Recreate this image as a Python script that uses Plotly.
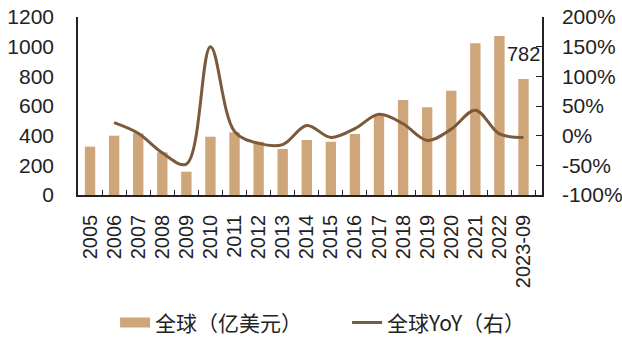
import plotly.graph_objects as go

# Categories and series
years = ["2005", "2006", "2007", "2008", "2009", "2010", "2011", "2012", "2013", "2014",
         "2015", "2016", "2017", "2018", "2019", "2020", "2021", "2022", "2023-09"]
global_value = [326, 400, 416, 288, 157, 393, 422, 359, 310, 371,
                359, 411, 545, 640, 591, 703, 1023, 1072, 782]
global_yoy_years = years[1:]
global_yoy = [22, 4, -29, -48, 150, 7, -13, -15, 17,
              -3, 12, 36, 20, -8, 11, 43, 3, -3]

y_ticks = [0, 200, 400, 600, 800, 1000, 1200]
y2_ticks = [-100, -50, 0, 50, 100, 150, 200]
y2_labels = ["-100%", "-50%", "0%", "50%", "100%", "150%", "200%"]

BAR_COLOR = "#CFA57A"
LINE_COLOR = "#7A5A3A"
FONT = "Liberation Sans, Arial, sans-serif"
CJK = "Noto Sans CJK SC"

fig = go.Figure()
fig.add_trace(go.Bar(
    x=years, y=global_value, name="全球（亿美元）",
    marker=dict(color=BAR_COLOR, line=dict(width=0)),
    yaxis="y", showlegend=False,
))
# legend entry for the bars drawn as a wide flat swatch
fig.add_trace(go.Scatter(
    x=[None], y=[None], name="全球（亿美元）", mode="lines",
    line=dict(color=BAR_COLOR, width=10), yaxis="y", hoverinfo="skip",
))
fig.add_trace(go.Scatter(
    x=global_yoy_years, y=global_yoy, name="全球YoY（右）",
    mode="lines", line=dict(color=LINE_COLOR, width=3, shape="spline", smoothing=1.0),
    yaxis="y2",
))

# value label on the last bar
fig.add_annotation(
    x=years[-1], y=global_value[-1], text=str(global_value[-1]),
    showarrow=False, xref="x", yref="y", yanchor="bottom",
    xshift=0, yshift=12, font=dict(family=FONT, size=20, color="#222"),
)

fig.update_layout(
    width=622, height=338,
    margin=dict(l=78, r=80, t=17, b=143),
    paper_bgcolor="white", plot_bgcolor="white",
    bargap=0.57,
    showlegend=True,
    legend=dict(
        orientation="h", xref="container", yref="container",
        x=0.185, y=0.045, xanchor="left", yanchor="middle",
        font=dict(family=CJK, size=21, color="#222"),
        entrywidth=187, entrywidthmode="pixels", traceorder="normal",
    ),
    xaxis=dict(
        type="category", tickangle=-90, automargin=False,
        tickfont=dict(family=FONT, size=20, color="#222"),
        showline=True, linecolor="#222", linewidth=1.5,
        ticks="inside", ticklen=5, tickcolor="#222", tickson="boundaries",
        ticklabelstandoff=10,
        showgrid=False, zeroline=False,
    ),
    yaxis=dict(
        range=[0, 1200], tickvals=y_ticks, automargin=False,
        tickfont=dict(family=FONT, size=21, color="#222"),
        showline=True, linecolor="#222", linewidth=1.5,
        ticks="", showgrid=False, zeroline=False, ticklabelstandoff=18,
    ),
    yaxis2=dict(
        range=[-100, 200], tickvals=y2_ticks, ticktext=y2_labels,
        overlaying="y", side="right", automargin=False,
        tickfont=dict(family=FONT, size=21, color="#222"),
        showline=True, linecolor="#222", linewidth=1.5,
        ticks="inside", ticklen=6, tickcolor="#222", ticklabelstandoff=14,
        showgrid=False, zeroline=False,
    ),
)

fig.write_html("out.html")
